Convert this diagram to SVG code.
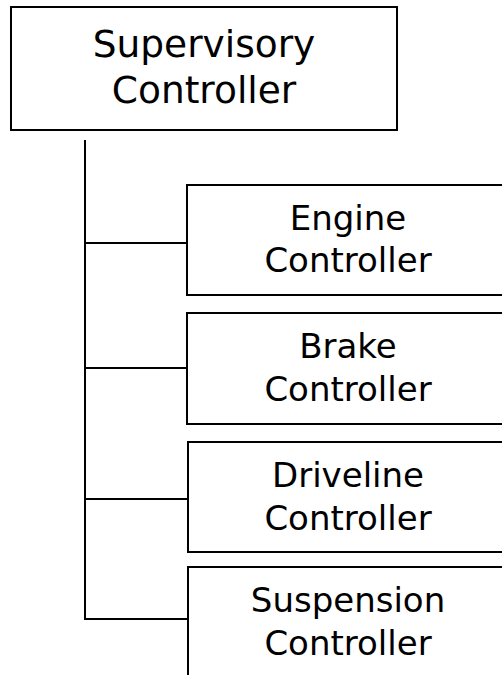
<svg xmlns="http://www.w3.org/2000/svg" width="502" height="675" viewBox="0 0 502 675">
<style>
.box{fill:#fff;stroke:#000;stroke-width:2}
.lbl{font-family:"DejaVu Sans","Liberation Sans",sans-serif;font-size:34px;fill:#000;text-anchor:middle}
.big{font-size:37.5px}
.conn{stroke:#000;stroke-width:2;fill:none}
</style>
<rect width="502" height="675" fill="#fff"/>
<g id="connectors">
<line class="conn" x1="85" y1="140" x2="85" y2="620"/>
<line class="conn" x1="84" y1="243" x2="187" y2="243"/>
<line class="conn" x1="84" y1="368" x2="187" y2="368"/>
<line class="conn" x1="84" y1="499" x2="188" y2="499"/>
<line class="conn" x1="84" y1="619" x2="188" y2="619"/>
</g>
<g id="supervisory">
<rect class="box" x="11" y="7" width="386" height="123"/>
<text class="lbl big" x="204" y="57">Supervisory</text>
<text class="lbl big" x="204" y="103">Controller</text>
</g>
<g id="engine">
<rect class="box" x="187" y="185" width="322" height="110"/>
<text class="lbl" x="348" y="230">Engine</text>
<text class="lbl" x="348" y="272">Controller</text>
</g>
<g id="brake">
<rect class="box" x="187" y="313" width="322" height="111"/>
<text class="lbl" x="348" y="358">Brake</text>
<text class="lbl" x="348" y="401">Controller</text>
</g>
<g id="driveline">
<rect class="box" x="188" y="442" width="321" height="110"/>
<text class="lbl" x="348" y="487">Driveline</text>
<text class="lbl" x="348" y="530">Controller</text>
</g>
<g id="suspension">
<rect class="box" x="188" y="567" width="321" height="130"/>
<text class="lbl" x="348" y="612">Suspension</text>
<text class="lbl" x="348" y="655">Controller</text>
</g>
</svg>
